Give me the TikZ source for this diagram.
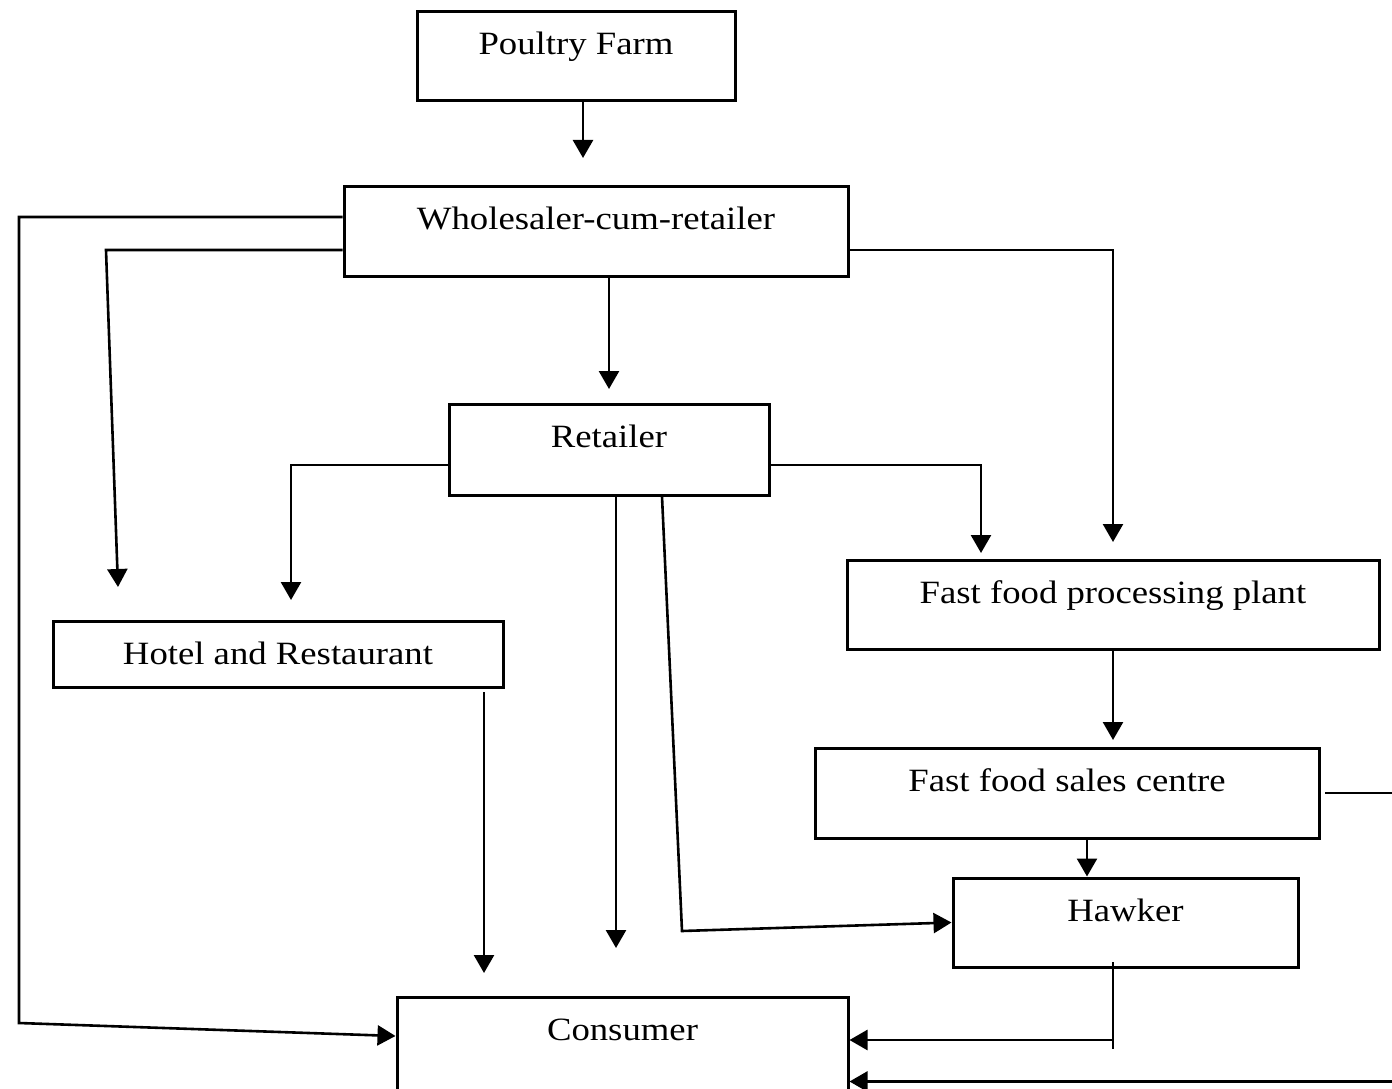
\documentclass[tikz,border=0pt]{standalone}
\usepackage{fontspec}
\setmainfont{Liberation Serif}[FakeStretch=1.13]
\usetikzlibrary{arrows.meta}

\tikzset{
  flowbox/.style={draw, line width=3pt, rectangle, inner sep=0pt,
    font=\fontsize{32.5}{36}\selectfont, text height=43pt},
  conn/.style={line width=2.6pt},
  arr/.style={conn, -{Triangle[length=18pt,width=20pt]}}
}

\begin{document}
\begin{tikzpicture}[x=1pt,y=-1pt]
\useasboundingbox (0,0) rectangle (1392,1089);
\clip (0,0) rectangle (1392,1089);

% boxes (centre, width, height)
\node[flowbox, minimum width=318pt, text depth=46pt] (pf) at (576,56.5) {Poultry Farm};
\node[flowbox, minimum width=504pt, text depth=47pt] (ws) at (596,231) {Wholesaler-cum-retailer};
\node[flowbox, minimum width=320pt, text depth=48pt] (rt) at (609,449.5) {Retailer};
\node[flowbox, minimum width=450pt, text depth=23pt] (hr) at (278,654) {Hotel and Restaurant};
\node[flowbox, minimum width=532pt, text depth=46pt] (fp) at (1113,604.5) {Fast food processing plant};
\node[flowbox, minimum width=504pt, text depth=47pt] (fs) at (1067,793) {Fast food sales centre};
\node[flowbox, minimum width=345pt, text depth=46pt] (hk) at (1125.5,922.5) {Hawker};
\node[flowbox, minimum width=451pt, text depth=54pt] (cs) at (622.5,1046) {Consumer};

% bends and free arrow ends
\coordinate (a1) at (583,158);
\coordinate (b2a) at (19,217);
\coordinate (b2b) at (19,1023);
\coordinate (e2) at (0,1036);
\coordinate (b3) at (106,250);
\coordinate (a3) at (118,587);
\coordinate (b4) at (1113,250);
\coordinate (a4) at (1113,542);
\coordinate (a5) at (609,389);
\coordinate (b6) at (291,465);
\coordinate (a6) at (291,600);
\coordinate (b7) at (981,465);
\coordinate (a7) at (981,553);
\coordinate (a8) at (616,948);
\coordinate (s9) at (662,0);
\coordinate (b9) at (682,931);
\coordinate (s10) at (484,692);
\coordinate (a10) at (484,973);
\coordinate (a11) at (1113,740);
\coordinate (x12) at (1087,0);
\coordinate (s13) at (1325,793);
\coordinate (b13a) at (1410,793);
\coordinate (b13b) at (1410,1081.5);
\coordinate (t14) at (1113,962);
\coordinate (u14) at (1113,1049);
\coordinate (m14) at (1113,1040);

% connectors
\draw[arr] (pf.south -| a1) -- (a1);
\draw[arr] (ws.west |- b2a) -- (b2a) -- (b2b) -- (cs.west |- e2);
\draw[arr] (ws.west |- b3) -- (b3) -- (a3);
\draw[arr] (ws.east |- b4) -- (b4) -- (a4);
\draw[arr] (ws.south -| a5) -- (a5);
\draw[arr] (rt.west |- b6) -- (b6) -- (a6);
\draw[arr] (rt.east |- b7) -- (b7) -- (a7);
\draw[arr] (rt.south -| a8) -- (a8);
\draw[arr] (rt.south -| s9) -- (b9) -- (hk.west);
\draw[arr] (s10) -- (a10);
\draw[arr] (fp.south) -- (a11);
\draw[arr] (fs.south -| x12) -- (hk.north -| x12);
\draw[arr] (s13) -- (b13a) -- (b13b) -- (cs.east |- b13b);
\draw[conn] (t14) -- (u14);
\draw[arr] (m14) -- (cs.east |- m14);
\end{tikzpicture}
\end{document}
